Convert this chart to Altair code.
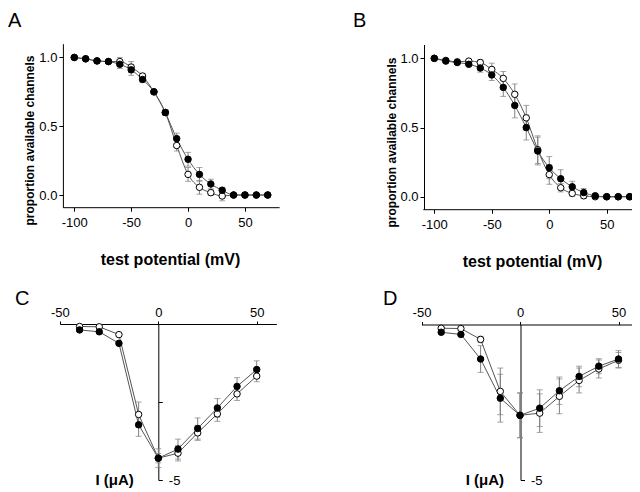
import altair as alt
import pandas as pd

# ---------------- data ----------------
ab_x = [-100, -90, -80, -70, -60, -50, -40, -30, -20, -10, 0, 10, 20, 30, 40, 50, 60, 70]

a_filled = [1.0, 0.99, 0.975, 0.97, 0.95, 0.91, 0.84, 0.75, 0.60, 0.41, 0.26, 0.15, 0.08, 0.035, 0.0, 0.0, 0.0, 0.0]
a_filled_err = [0.0, 0.01, 0.01, 0.01, 0.03, 0.04, 0.02, 0.01, 0.02, 0.04, 0.05, 0.05, 0.035, 0.02, 0.01, 0.01, 0.01, 0.01]
a_open = [1.0, 0.99, 0.975, 0.97, 0.97, 0.93, 0.865, 0.75, 0.60, 0.36, 0.15, 0.056, 0.017, -0.007, 0.0, 0.0, 0.0, 0.0]
a_open_err = [0.0, 0.01, 0.01, 0.01, 0.03, 0.04, 0.02, 0.01, 0.02, 0.04, 0.05, 0.05, 0.02, 0.035, 0.01, 0.01, 0.01, 0.01]

b_filled = [1.0, 0.98, 0.97, 0.957, 0.93, 0.88, 0.79, 0.66, 0.50, 0.33, 0.21, 0.13, 0.072, 0.03, 0.007, 0.0, 0.0, 0.0]
b_filled_err = [0.0, 0.01, 0.01, 0.01, 0.03, 0.04, 0.065, 0.09, 0.09, 0.10, 0.08, 0.065, 0.04, 0.03, 0.01, 0.01, 0.01, 0.01]
b_open = [1.0, 0.985, 0.975, 0.98, 0.97, 0.92, 0.855, 0.74, 0.57, 0.34, 0.16, 0.065, 0.024, 0.007, 0.0, 0.0, 0.0, 0.0]
b_open_err = [0.0, 0.01, 0.01, 0.01, 0.02, 0.045, 0.05, 0.075, 0.09, 0.10, 0.07, 0.03, 0.02, 0.02, 0.01, 0.01, 0.01, 0.01]

cd_x = [-40, -30, -20, -10, 0, 10, 20, 30, 40, 50]

c_filled = [-0.19, -0.25, -0.62, -3.23, -4.30, -4.01, -3.35, -2.69, -2.00, -1.46]
c_filled_err = [0.05, 0.05, 0.05, 0.37, 0.15, 0.32, 0.34, 0.30, 0.28, 0.28]
c_open = [-0.08, -0.09, -0.34, -2.90, -4.30, -4.14, -3.49, -2.88, -2.24, -1.67]
c_open_err = [0.05, 0.05, 0.05, 0.40, 0.30, 0.25, 0.24, 0.24, 0.21, 0.18]

d_filled = [-0.25, -0.32, -1.11, -2.37, -2.92, -2.69, -2.13, -1.67, -1.34, -1.11]
d_filled_err = [0.05, 0.05, 0.43, 0.77, 0.72, 0.59, 0.44, 0.33, 0.24, 0.27]
d_open = [-0.12, -0.13, -0.48, -2.15, -2.92, -2.85, -2.31, -1.80, -1.43, -1.15]
d_open_err = [0.05, 0.05, 0.10, 0.75, 0.72, 0.62, 0.56, 0.40, 0.29, 0.25]

ab_xticks = [-100, -50, 0, 50]
ab_yticks = [0.0, 0.5, 1.0]
cd_xticks = [-50, 0, 50]
x_title = "test potential (mV)"
y_title_ab = "proportion available channels"
y_title_cd = "I (\u03bcA)"

W, H = 624, 484
FONT = "Liberation Sans"
HYPHEN = "replace(datum.label, '\u2212', '-')"


def make_df(x, f, fe, o, oe):
    rows = []
    for xi, yi, ei in zip(x, o, oe):
        rows.append({"x": xi, "y": yi, "err": ei, "series": "open"})
    for xi, yi, ei in zip(x, f, fe):
        rows.append({"x": xi, "y": yi, "err": ei, "series": "filled"})
    return pd.DataFrame(rows)


fill_scale = alt.Scale(domain=["filled", "open"], range=["black", "white"])


def panel(df, xscale, yscale, xaxis, yaxis, interp):
    X = alt.X("x:Q", scale=xscale, axis=xaxis)
    Y = alt.Y("y:Q", scale=yscale, axis=yaxis)
    base = alt.Chart(df)
    line = base.mark_line(color="#555555", strokeWidth=1, interpolate=interp).encode(
        x=X, y=Y, detail="series:N")
    bars = base.transform_calculate(
        lo="datum.y - datum.err", hi="datum.y + datum.err"
    ).mark_rule(color="#808080", strokeWidth=1).encode(
        x=X, y=alt.Y("lo:Q", scale=yscale, axis=yaxis), y2="hi:Q")
    caps = base.transform_calculate(
        lo="datum.y - datum.err", hi="datum.y + datum.err"
    ).transform_fold(["lo", "hi"], as_=["cap", "cy"]).mark_tick(
        orient="horizontal", size=6, thickness=1, color="#808080"
    ).encode(x=X, y=alt.Y("cy:Q", scale=yscale, axis=yaxis))
    pts = base.mark_circle(size=42, stroke="black", strokeWidth=1, opacity=1).encode(
        x=X, y=Y, fill=alt.Fill("series:N", scale=fill_scale, legend=None))
    return alt.layer(line, bars, caps, pts)


common_axis = dict(grid=False, labelFontSize=13, labelFont=FONT, titleFont=FONT,
                   domainColor="black", tickColor="black", labelColor="black",
                   titleColor="black", labelFlush=False, tickSize=4)

# ---- panel A ----
a_x_axis = alt.Axis(orient="bottom", offset=199.2 - H, values=ab_xticks, title=x_title,
                    labelExpr=HYPHEN,
                    titleFontSize=16, titleFontWeight="bold", titleX=162, titleY=57,
                    titleBaseline="alphabetic", labelPadding=5, **common_axis)
a_y_axis = alt.Axis(orient="left", offset=-54.9, values=ab_yticks, format=".1f",
                    title=y_title_ab, titleFontSize=12, titleFontWeight="bold",
                    titleX=-26, titleY=132, titleBaseline="bottom", labelPadding=2,
                    **common_axis)
panel_a = panel(make_df(ab_x, a_filled, a_filled_err, a_open, a_open_err),
                alt.Scale(domain=[-110, 80], range=[54.9, 271.1], nice=False, zero=False),
                alt.Scale(domain=[-0.09, 1.1], range=[199.4, 35.7], nice=False, zero=False),
                a_x_axis, a_y_axis, "monotone")

# ---- panel B ----
b_x_axis = alt.Axis(orient="bottom", offset=201.2 - H, values=ab_xticks, title=x_title,
                    labelExpr=HYPHEN,
                    titleFontSize=16, titleFontWeight="bold", titleX=524, titleY=57,
                    titleBaseline="alphabetic", labelPadding=5, **common_axis)
b_y_axis = alt.Axis(orient="left", offset=-416, values=ab_yticks, format=".1f",
                    title=y_title_ab, titleFontSize=12, titleFontWeight="bold",
                    titleX=-26, titleY=134, titleBaseline="bottom", labelPadding=2,
                    **common_axis)
panel_b = panel(make_df(ab_x, b_filled, b_filled_err, b_open, b_open_err),
                alt.Scale(domain=[-110, 80], range=[414.8, 633.2], nice=False, zero=False),
                alt.Scale(domain=[-0.09, 1.1], range=[201.2, 36.5], nice=False, zero=False),
                b_x_axis, b_y_axis, "monotone")

# ---- panel C ----
c_x_axis = alt.Axis(orient="top", offset=-316, values=cd_xticks, title="",
                    labelExpr=HYPHEN, labelPadding=2, tickSize=3,
                    **{k: v for k, v in common_axis.items() if k != "tickSize"})
c_y_axis = alt.Axis(orient="right", offset=150.3 - W, values=[-5, -2.5],
                    labelExpr="datum.value == -5 ? '-5' : ''", title=y_title_cd,
                    titleAngle=0, titleFontSize=15, titleFontWeight="bold",
                    titleAlign="right", titleBaseline="alphabetic", titleX=-25, titleY=476,
                    labelPadding=6, **common_axis)
panel_c = panel(make_df(cd_x, c_filled, c_filled_err, c_open, c_open_err),
                alt.Scale(domain=[-50, 60], range=[51.9, 268.4], nice=False, zero=False),
                alt.Scale(domain=[-5, 0], range=[472, 316], nice=False, zero=False),
                c_x_axis, c_y_axis, "linear")

# ---- panel D ----
d_x_axis = alt.Axis(orient="top", offset=-316.5, values=cd_xticks, title="",
                    labelExpr=HYPHEN, labelPadding=2, tickSize=3,
                    **{k: v for k, v in common_axis.items() if k != "tickSize"})
d_y_axis = alt.Axis(orient="right", offset=512.5 - W, values=[-5],
                    labelExpr="datum.value == -5 ? '-5' : ''", title=y_title_cd,
                    titleAngle=0, titleFontSize=15, titleFontWeight="bold",
                    titleAlign="right", titleBaseline="alphabetic", titleX=-17, titleY=476,
                    labelPadding=6, **common_axis)
panel_d = panel(make_df(cd_x, d_filled, d_filled_err, d_open, d_open_err),
                alt.Scale(domain=[-50, 60], range=[413.5, 630.2], nice=False, zero=False),
                alt.Scale(domain=[-5, 0], range=[472, 316.5], nice=False, zero=False),
                d_x_axis, d_y_axis, "linear")


def letter(t, px, py):
    return alt.Chart(pd.DataFrame({"t": [t]})).mark_text(
        align="left", baseline="alphabetic", fontSize=20, font=FONT, color="black"
    ).encode(text="t:N", x=alt.value(px), y=alt.value(py))


chart = alt.layer(
    panel_a, panel_b, panel_c, panel_d,
    letter("A", 0, 18.5), letter("B", 345, 18.5), letter("C", 7, 297), letter("D", 375, 297),
).resolve_scale(x="independent", y="independent").properties(
    width=W, height=H, padding=0, autosize="none"
).configure_view(strokeWidth=0)

chart.save("out.html", embed_options={"renderer": "svg", "actions": False})
